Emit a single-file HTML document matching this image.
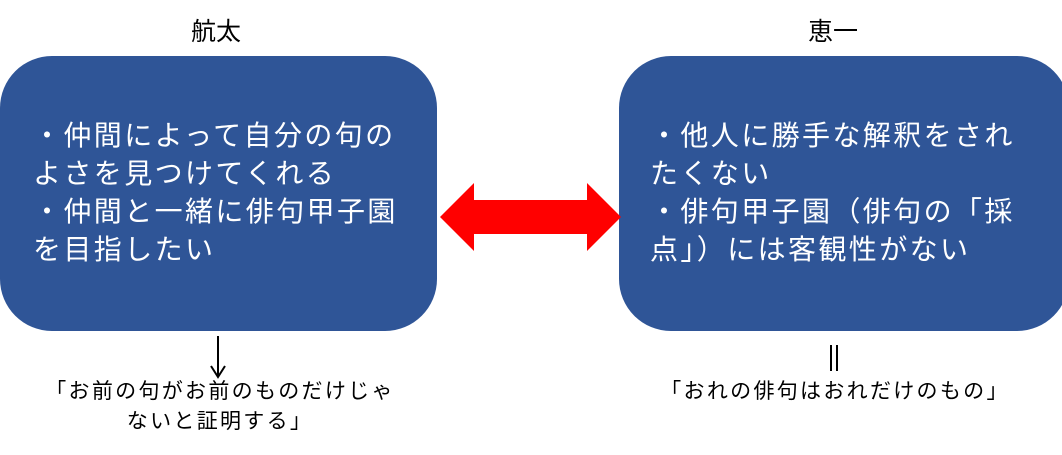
<!DOCTYPE html>
<html><head><meta charset="utf-8"><style>
body{margin:0;width:1062px;height:455px;background:#fff;position:relative;overflow:hidden;font-family:"Liberation Sans","Noto Sans CJK JP",sans-serif}
.box{position:absolute;top:56px;height:275px;background:#2F5597;border-radius:52px}
.t{position:absolute;color:#fff;font-size:28px;line-height:38px;letter-spacing:2.4px;white-space:nowrap}
.h{position:absolute;font-size:25px;color:#000;top:12px}
.c{position:absolute;font-size:21px;letter-spacing:2.3px;color:#000;white-space:nowrap;line-height:30px;text-align:center}
</style></head><body>
<div class="h" style="left:191px">航太</div>
<div class="h" style="left:808px">恵一</div>
<div class="box" style="left:0;width:437px"></div>
<div class="box" style="left:619px;width:450px"></div>
<div class="t" style="left:33px;top:117px">・仲間によって自分の句の<br>よさを見つけてくれる<br>・仲間と一緒に俳句甲子園<br>を目指したい</div>
<div class="t" style="left:650px;top:117px">・他人に勝手な解釈をされ<br>たくない<br>・俳句甲子園（俳句の「採<br>点」）には客観性がない</div>
<svg style="position:absolute;left:0;top:0" width="1062" height="455">
<polygon points="440,217 474,183 474,200 587,200 587,183 621,217 587,251 587,234 474,234 474,251" fill="#FF0000"/>
<line x1="218" y1="336" x2="218" y2="376" stroke="#000" stroke-width="2"/>
<polyline points="211,366 218,377 225,366" fill="none" stroke="#000" stroke-width="2"/>
<line x1="831" y1="345" x2="831" y2="371" stroke="#000" stroke-width="2"/>
<line x1="837" y1="345" x2="837" y2="371" stroke="#000" stroke-width="2"/>
</svg>
<div class="c" style="left:20px;width:400px;top:377px">「お前の句がお前のものだけじゃ<br>ないと証明する」</div>
<div class="c" style="left:630px;width:410px;top:377px">「おれの俳句はおれだけのもの」</div>
</body></html>
